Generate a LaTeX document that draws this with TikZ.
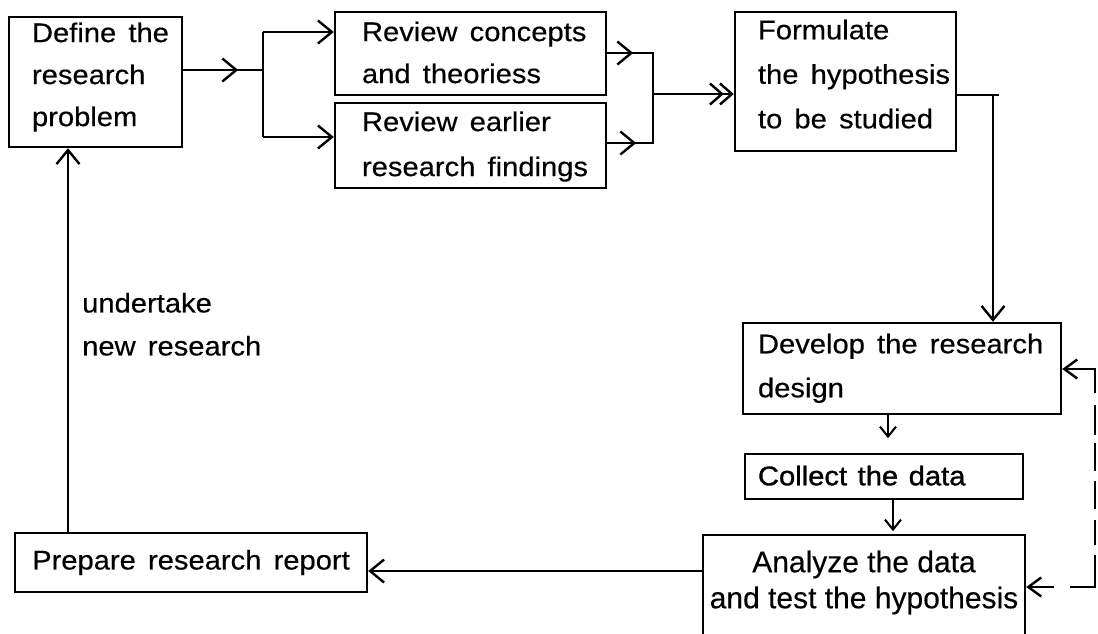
\documentclass[tikz,border=0pt]{standalone}
\usepackage{fontspec}
\setmainfont{Liberation Sans}[FakeStretch=1.08, WordSpace=1.5, FakeBold=0.4]
\newfontfamily\collectfont{Liberation Sans}[FakeStretch=1.08, WordSpace=1.3, FakeBold=1.2]
\newfontfamily\analyzefont{Liberation Sans}[FakeBold=0.3]
\usetikzlibrary{arrows.meta}

% text block of fixed size: width, height, left pad, top gap, line pitch, lines
\newcommand{\celltext}[6]{%
  \parbox[c][#2pt][t]{#1pt}{\raggedright\leftskip=#3pt\relax
    \baselineskip=#5pt\relax\vspace*{#4pt}#6}}

\tikzset{
  box/.style={draw, line width=2.4pt, inner sep=0pt,
    font=\fontsize{27}{42}\selectfont},
  link/.style={line width=2.4pt},
  arr/.style={link, -{Straight Barb[length=14pt,width=23pt,line width=2.4pt]}},
  smallarr/.style={link, -{Straight Barb[length=10pt,width=16pt,line width=2pt]}},
  dblarr/.style={link, -{Straight Barb[length=12pt,width=21pt,line width=2.4pt,sep=-5pt]Straight Barb[length=12pt,width=21pt,line width=2.4pt]}},
  fbline/.style={line width=2.4pt,
    {Straight Barb[length=13pt,width=19pt,line width=2.4pt]}-{Straight Barb[length=13pt,width=19pt,line width=2.4pt]},
    dash pattern=on 25pt off 16pt on 57pt off 10pt on 25pt off 11pt on 28pt off 10pt on 28pt off 8pt on 30pt off 12pt on 60pt off 10pt},
}

\begin{document}
\begin{tikzpicture}[x=1pt, y=-1pt]
\useasboundingbox (0,0) rectangle (1098,633);

% process boxes
\node[box] (define) at (95.5,82)
  {\celltext{173}{130}{23}{5.5}{42}{Define the\\research\\problem}};
\node[box] (rc) at (470.5,53.5)
  {\celltext{271}{83}{27}{9.5}{42}{Review concepts\\and theoriess}};
\node[box] (re) at (470.5,145.5)
  {\celltext{271}{85}{27}{8.5}{45}{Review earlier\\research findings}};
\node[box] (form) at (845.5,81.5)
  {\celltext{221}{139}{23}{7.7}{44.5}{Formulate\\the hypothesis\\to be studied}};
\node[box] (dev) at (902,368.5)
  {\celltext{318}{91}{15}{10.7}{44}{Develop the research\\design}};
\node[box, font={\collectfont\fontsize{27}{42}\selectfont}] (coll) at (884,476.5)
  {\celltext{278}{45}{13}{11.7}{42}{Collect the data}};
\node[box, font={\analyzefont\fontsize{30}{36}\selectfont}] (ana) at (864,587.5)
  {\parbox[c][105pt][t]{322pt}{\centering\vspace*{15.5pt}Analyze the data\\and test the hypothesis}};
\node[box, minimum width=352, minimum height=59] (prep) at (191,562.5)
  {Prepare research report};

% loop-back label
\node[anchor=north west, inner sep=0pt, align=left,
      font=\fontsize{27}{43}\selectfont] (note) at (82,292.7)
  {undertake\\new research};

% split after the problem definition
\coordinate (split) at (263,70);
\coordinate (bt) at (263,32);
\coordinate (bb) at (263,137);
\draw[link] (define.east |- split) -- (split);
\draw[arr] (define.east |- split) -- ++(55,0);
\draw[link] (bt) -- (bb);
\draw[arr] (bt) -- (bt -| rc.west);
\draw[arr] (bb) -- (bb -| re.west);

% join into the hypothesis
\coordinate (jt) at (653,53);
\coordinate (jb) at (653,143);
\coordinate (jm) at (653,94);
\draw[link] (rc.east |- jt) -- (jt) -- (jb) -- (re.east |- jb);
\draw[arr] (rc.east |- jt) -- ++(26,0);
\draw[arr] (re.east |- jb) -- ++(29,0);
\draw[dblarr] (jm) -- (jm -| form.west);

% hypothesis down to the research design
\coordinate (fc) at (993,95);
\draw[link] (form.east |- fc) -- ++(42,0);
\draw[arr] (fc) -- (fc |- dev.north);

% design -> collect -> analyze
\coordinate (dc) at (888,0);
\coordinate (ca) at (893,0);
\draw[smallarr] (dc |- dev.south) -- ++(0,23);
\draw[smallarr] (ca |- coll.south) -- ++(0,31);

% feedback loop from analysis to design
\coordinate (fbb) at (1095,587);
\coordinate (fbt) at (1095,369);
\draw[fbline] (fbb -| ana.east) -- (fbb) -- (fbt) -- (fbt -| dev.east);

% analysis -> report -> new problem
\coordinate (ap) at (703,571);
\draw[arr] (ap) -- (ap -| prep.east);
\coordinate (loopx) at (68,340);
\draw[arr] (loopx |- prep.north) -- (loopx |- define.south);
\end{tikzpicture}
\end{document}
